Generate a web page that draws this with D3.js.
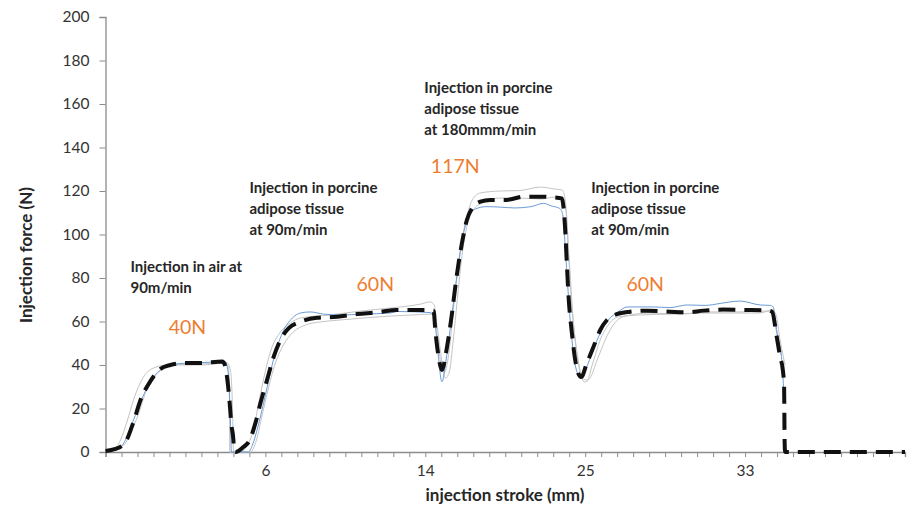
<!DOCTYPE html>
<html>
<head>
<meta charset="utf-8">
<script src="https://cdn.jsdelivr.net/npm/d3@7"></script>
<style>
  body { margin: 0; background: #fff; }
  text { font-family: Lato, "Open Sans", sans-serif; }
</style>
</head>
<body>
<div id="chart"></div>
<script>
// stroke position is the sample index along the axis (0..50), force in N
var xTickValues = [10, 20, 30, 40];
var xTickLabels = ["6", "14", "25", "33"];
var yTickValues = [0, 20, 40, 60, 80, 100, 120, 140, 160, 180, 200];

// mean curve (black dashed)
var meanStroke = [0, 0.625, 1.25, 1.75, 2.19, 2.81, 3.44, 4.06, 4.88, 5.94, 7.31, 7.44, 7.625, 7.75, 7.875, 8.0, 8.03,
  8.125, 8.64, 8.96, 9.375, 9.69, 10.1, 10.52, 10.94, 11.46, 12.19, 13.23, 14.48, 15.73, 16.98, 18.23, 19.9, 20.52,
  20.625, 20.83, 21.04, 21.36, 21.67, 21.875, 22.08, 22.29, 22.6, 22.92, 23.44, 24.06, 25.1, 26.14, 27.19, 28.02, 28.54,
  28.64, 28.75, 28.85, 28.96, 29.17, 29.375, 29.58, 29.75, 30.1, 30.52, 30.94, 31.36, 31.98, 32.81, 33.86, 35.31, 36.36,
  37.39, 38.64, 39.89, 41.46, 41.69, 41.98, 42.19, 42.36, 42.44, 42.47, 42.5, 50];
var meanForce = [0.5, 1.4, 4.6, 13.8, 23.9, 32.6, 38.2, 40, 40.9, 40.9, 41.6, 40.5, 33, 24, 12.4, 5.5, 0.5,
  0, 2.4, 4.7, 13.3, 22.5, 33.1, 43.8, 51.5, 56.9, 59.9, 61.7, 62.2, 63.4, 64.2, 65.3, 65.3, 65,
  56.1, 43.8, 37.7, 48.4, 63.8, 76, 86.8, 96, 106.7, 112, 115.1, 115.9, 115.9, 117.4, 117.4, 117.1, 116.6,
  112.8, 102.1, 86.8, 71.4, 54.6, 42.3, 35.9, 34.5, 40.8, 48.4, 56.1, 60.7, 63.4, 64.5, 65, 64.5, 64.2,
  65, 65.5, 65.3, 65, 64.4, 52.9, 43.8, 37.7, 30, 5.5, 0, 0];

// sample 1 (blue)
var sample1Stroke = [0, 0.94, 1.25, 1.75, 2.19, 2.81, 3.44, 4.375, 5.94, 7.5, 7.69, 7.81, 7.875,
  8.94, 9.19, 9.56, 10, 10.5, 11.06, 11.69, 12.19, 12.81, 13.63, 14.69, 16.1, 17.8, 18.25, 20.3, 20.56, 20.75,
  21.04, 21.3, 21.625, 21.94, 22.25, 22.69, 23.125, 23.8, 24.7, 25.6, 26.6, 27.4, 27.9, 28.4, 28.6, 28.8, 29.06,
  29.375, 29.69, 30.06, 30.5, 30.94, 31.44, 32.06, 32.625, 34.25, 35.3, 36.375, 37.5, 38.44, 39.06, 39.69, 40.94,
  41.56, 41.75, 42, 42.31, 42.4];
var sample1Force = [0.5, 2.3, 5.5, 14.7, 23, 32.2, 37.7, 40.5, 41.1, 41.4, 35.4, 14.7, 0,
  0, 3.2, 12.4, 26.2, 42.3, 54.7, 61.6, 63.9, 64.4, 63.4, 63, 63.4, 63.9, 64.6, 64.1, 61.6, 49.2,
  32.3, 42.3, 60.7, 79.1, 95.2, 108, 111.7, 112.8, 112.6, 112.2, 112.8, 114.3, 113.1, 112, 109, 88.3, 60.7,
  40, 34.5, 38.6, 46.9, 54.7, 60.7, 64.4, 66.7, 66.7, 66.4, 67.6, 67.4, 68.3, 69, 69.4, 67.6,
  67.4, 66.7, 54.7, 40.9, 29.9];

// sample 2 (grey, upper)
var sample2Stroke = [0, 0.625, 0.94, 1.375, 1.75, 2.375, 3, 3.875, 5.94, 7.375, 7.69, 7.75, 7.77,
  8.44, 8.875, 9.25, 9.56, 9.875, 10.31, 10.94, 11.56, 12.19, 14.06, 15.94, 17.8, 19.7, 20.3, 20.56, 20.75, 21,
  21.2, 21.5, 21.75, 22, 22.3, 22.625, 22.94, 23.44, 24.7, 25.9, 27.2, 28.1, 28.56, 28.75, 28.94, 29.19, 29.5,
  29.8, 30.125, 30.44, 30.94, 31.44, 32.06, 33.44, 35.3, 37.2, 39.06, 40.94, 41.69, 41.94, 42.19, 42.5];
var sample2Force = [0.5, 1.8, 5.5, 14.7, 23.9, 34.5, 38.6, 40, 40.5, 40.9, 39.1, 23.9, 0,
  0, 3.2, 10.1, 21.6, 33.1, 46, 55.2, 59.3, 61.6, 63, 64.8, 66.2, 68, 69, 67.6, 53.8, 40,
  36.8, 46.9, 65.3, 81.4, 97.5, 109, 115.9, 119.1, 120, 120.2, 121.8, 120.9, 120.5, 115.9, 92.9, 65.3, 44.6,
  34, 33.1, 40, 51.5, 58.4, 62.1, 63, 63.4, 63.9, 63.9, 63.9, 65.3, 63, 51.5, 40];

// sample 3 (grey, lower)
var sample3Stroke = [0, 0.8, 1.25, 1.625, 2, 2.625, 3.44, 4.25, 5.94, 7.625, 7.81, 7.94, 8, 8.03,
  9.06, 9.44, 9.8, 10.19, 10.625, 11.125, 11.75, 12.5, 13.44, 14.69, 16.1, 17.8, 19.7, 20.44, 20.69, 20.94,
  21.25, 21.5, 21.75, 22, 22.3, 22.625, 23, 23.56, 24.7, 25.9, 27.2, 28.1, 28.6, 28.8, 29, 29.25, 29.56,
  29.94, 30.3, 30.75, 31.25, 31.75, 32.5, 34.06, 35.94, 37.8, 39.7, 41.25, 41.69, 41.94, 42.25];
var sample3Force = [0.5, 1.8, 4.1, 10.1, 16.1, 29.9, 37.7, 40, 40, 40.9, 37.7, 20.7, 0.9, 0,
  0, 5.5, 17, 29.4, 40.9, 49.2, 55.2, 58.4, 59.8, 60.7, 61.6, 62.5, 63.2, 63.4, 59.8, 46.9,
  34, 36.8, 51.5, 69.9, 90.6, 104.4, 111.3, 114.5, 116.8, 116.8, 116.3, 117.2, 116.8, 111.3, 88.3, 60.7, 42.3,
  32.2, 34, 42.3, 51.5, 58.4, 62.5, 63.9, 63.4, 64.4, 64.4, 64.8, 63.9, 56.1, 44.6];

// text notes: lines, anchor stroke, anchor force of first baseline
var noteLines = [
  ["Injection in air at", "90m/min"],
  ["Injection in porcine", "adipose tissue", "at 90m/min"],
  ["Injection in porcine", "adipose tissue", "at 180mmm/min"],
  ["Injection in porcine", "adipose tissue", "at 90m/min"]
];
var noteStroke = [1.56, 9.0, 19.94, 30.375];
var noteForce = [82.8, 119.1, 165, 119.1];

var peakLabels = ["40N", "60N", "117N", "60N"];
var peakStroke = [5.125, 16.875, 21.875, 33.75];
var peakForce = [54.2, 74, 128.2, 74];

var svgWidth = 911;
var svgHeight = 506;

var margin = {
  top: 17,
  right: 6,
  bottom: 54,
  left: 105.5};

var width = svgWidth - margin.left - margin.right;
var height = svgHeight - margin.top - margin.bottom;

var svg = d3.select("#chart")
  .append("svg")
  .attr("width", svgWidth)
  .attr("height", svgHeight);

var chartGroup = svg.append("g")
  .attr("transform", `translate(${margin.left}, ${margin.top})`);

var xScale = d3.scaleLinear().domain([0, 50]).range([0, width]);
var yScale = d3.scaleLinear().domain([0, 200]).range([height, 0]);

// axes
var bottomAxis = d3.axisBottom(xScale)
  .tickValues(d3.range(0, 51))
  .tickSize(5)
  .tickFormat(d => {
    var i = xTickValues.indexOf(d);
    return i >= 0 ? xTickLabels[i] : "";
  });

var leftAxis = d3.axisLeft(yScale)
  .tickValues(yTickValues)
  .tickSize(6)
  .tickPadding(10);

var xAxis = chartGroup.append("g")
  .attr("transform", `translate(0, ${height})`)
  .call(bottomAxis);

var yAxis = chartGroup.append("g")
  .call(leftAxis);

[xAxis, yAxis].forEach(a => {
  a.select(".domain").attr("stroke", "#8c8c8c").attr("stroke-width", 1.3);
  a.selectAll(".tick line").attr("stroke", "#8c8c8c").attr("stroke-width", 1);
  a.selectAll("text")
    .style("font-size", "15.5px")
    .style("font-family", "Lato, sans-serif")
    .attr("fill", "#333");
});
xAxis.selectAll("text").attr("dy", "1.05em");

// axis titles
svg.append("text")
  .attr("x", 505)
  .attr("y", 501)
  .attr("text-anchor", "middle")
  .style("font-size", "17px")
  .style("font-weight", "bold")
  .attr("fill", "#262626")
  .text("injection stroke (mm)");

svg.append("text")
  .attr("transform", "translate(32, 255) rotate(-90)")
  .attr("text-anchor", "middle")
  .style("font-size", "17px")
  .style("font-weight", "bold")
  .attr("fill", "#262626")
  .text("Injection force (N)");

// lines
var line = d3.line()
  .x(d => xScale(d[0]))
  .y(d => yScale(d[1]))
  .curve(d3.curveMonotoneX);

function pairs(xs, ys) {
  return xs.map((x, i) => [x, ys[i]]);
}

var samples = [
  {x: sample2Stroke, y: sample2Force, color: "#c4c4c4"},
  {x: sample3Stroke, y: sample3Force, color: "#c4c4c4"},
  {x: sample1Stroke, y: sample1Force, color: "#6a9bd6"}
];

samples.forEach(s => {
  chartGroup.append("path")
    .datum(pairs(s.x, s.y))
    .attr("d", line)
    .attr("fill", "none")
    .attr("stroke", s.color)
    .attr("stroke-width", 1);
});

chartGroup.append("path")
  .datum(pairs(meanStroke, meanForce))
  .attr("d", line)
  .attr("fill", "none")
  .attr("stroke", "#111")
  .attr("stroke-width", 4)
  .attr("stroke-dasharray", "17,9");

// notes
noteLines.forEach((lines, i) => {
  var t = chartGroup.append("text")
    .attr("x", xScale(noteStroke[i]))
    .attr("y", yScale(noteForce[i]))
    .style("font-size", "15px")
    .style("font-weight", "bold")
    .attr("fill", "#262626");
  lines.forEach((l, j) => {
    t.append("tspan")
      .attr("x", xScale(noteStroke[i]))
      .attr("dy", j == 0 ? 0 : 21)
      .text(l);
  });
});

chartGroup.selectAll(".peak")
  .data(peakLabels)
  .enter()
  .append("text")
  .attr("x", (d, i) => xScale(peakStroke[i]))
  .attr("y", (d, i) => yScale(peakForce[i]))
  .attr("text-anchor", "middle")
  .style("font-size", "19.5px")
  .attr("fill", "#ed7d31")
  .text(d => d);
</script>
</body>
</html>
